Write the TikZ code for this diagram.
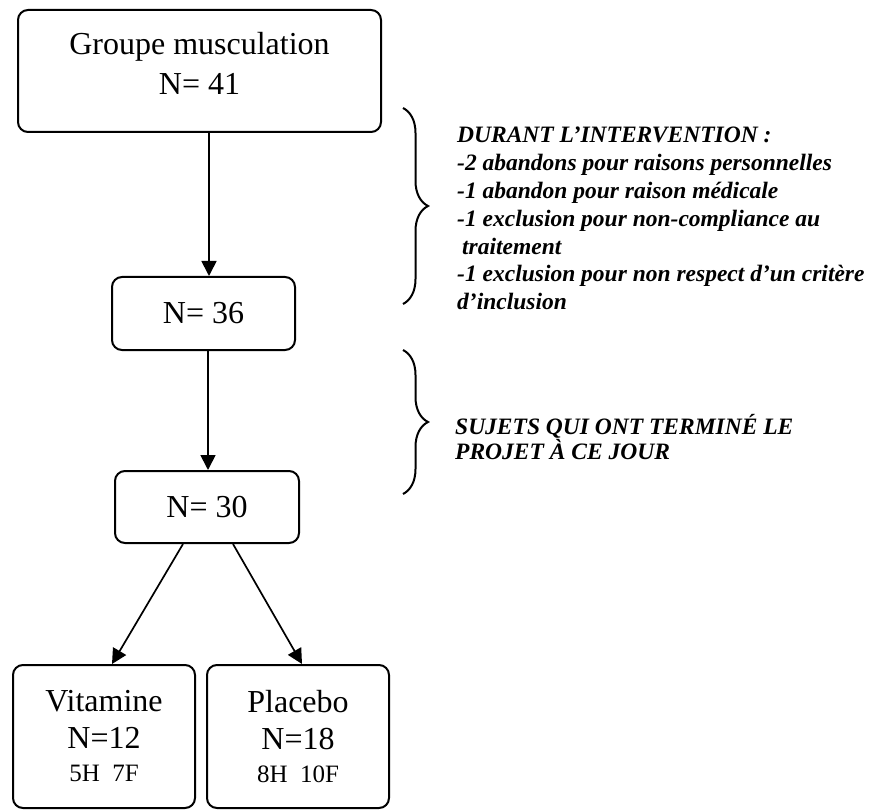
\documentclass[tikz,border=0pt]{standalone}
\usepackage{fontspec}
\setmainfont{Liberation Serif}
\usetikzlibrary{arrows.meta,decorations.pathreplacing}
\begin{document}
\begin{tikzpicture}[x=1pt,y=-1pt,
  box/.style={draw, line width=2pt, rounded corners=10pt, inner sep=0pt, align=center, font=\fontsize{32}{37}\selectfont},
  txt/.style={inner sep=0pt, align=center, font=\fontsize{32}{40}\selectfont},
  arr/.style={line width=1.7pt, -{Triangle[length=15pt,width=15pt]}},
  note/.style={font=\fontsize{23.5}{27.8}\selectfont\bfseries\itshape, align=left, inner sep=0pt, anchor=north west},
  brc/.style={decorate, decoration={brace, amplitude=25pt}, line width=2pt}]
\useasboundingbox (0,0) rectangle (875,810);
% boxes
\node[box, minimum width=363pt, minimum height=122pt] (g) at (199.5,71) {};
\node[txt, anchor=north] (gt) at (199.5,24) {\rule{0pt}{30pt}Groupe musculation\\N= 41};
\node[box, minimum width=183pt, minimum height=73pt] (n36) at (203.5,313.5) {N= 36};
\node[box, minimum width=184pt, minimum height=72pt] (n30) at (207,507) {N= 30};
\node[box, minimum width=182pt, minimum height=143pt] (vit) at (104,736.5)
  {Vitamine\\N=12\\[-4pt]{\fontsize{25}{30}\selectfont 5H\hspace{0.5em}7F}};
\node[box, minimum width=182pt, minimum height=143pt] (pla) at (298,736.5)
  {Placebo\\N=18\\[-4pt]{\fontsize{25}{30}\selectfont 8H\hspace{0.5em}10F}};
% arrows
\coordinate (c1) at (209,0);
\coordinate (c2) at (208,0);
\draw[arr] (g.south -| c1) -- (n36.north -| c1);
\draw[arr] (n36.south -| c2) -- (n30.north -| c2);
\draw[arr] ([xshift=-24pt]n30.south) -- ([xshift=8pt]vit.north);
\draw[arr] ([xshift=26pt]n30.south) -- ([xshift=4pt]pla.north);
% braces
\coordinate (b1a) at (403,108);
\coordinate (b1b) at (403,304);
\coordinate (b2a) at (403,350);
\coordinate (b2b) at (403,494);
\draw[brc] (b1a) -- (b1b);
\draw[brc] (b2a) -- (b2b);
% notes
\node[note] (note1) at (457,121.6) {\rule{0pt}{21pt}DURANT L’INTERVENTION :\\
-2 abandons pour raisons personnelles\\
-1 abandon pour raison médicale\\
-1 exclusion pour non-compliance au\\
\hspace{5pt}traitement\\
-1 exclusion pour non respect d'un critère\\
d'inclusion};
\node[note, font=\fontsize{23.5}{23}\selectfont\bfseries\itshape] (note2) at (455,413.6) {\rule{0pt}{21pt}SUJETS QUI ONT TERMINÉ LE\\PROJET À CE JOUR};
\end{tikzpicture}
\end{document}
